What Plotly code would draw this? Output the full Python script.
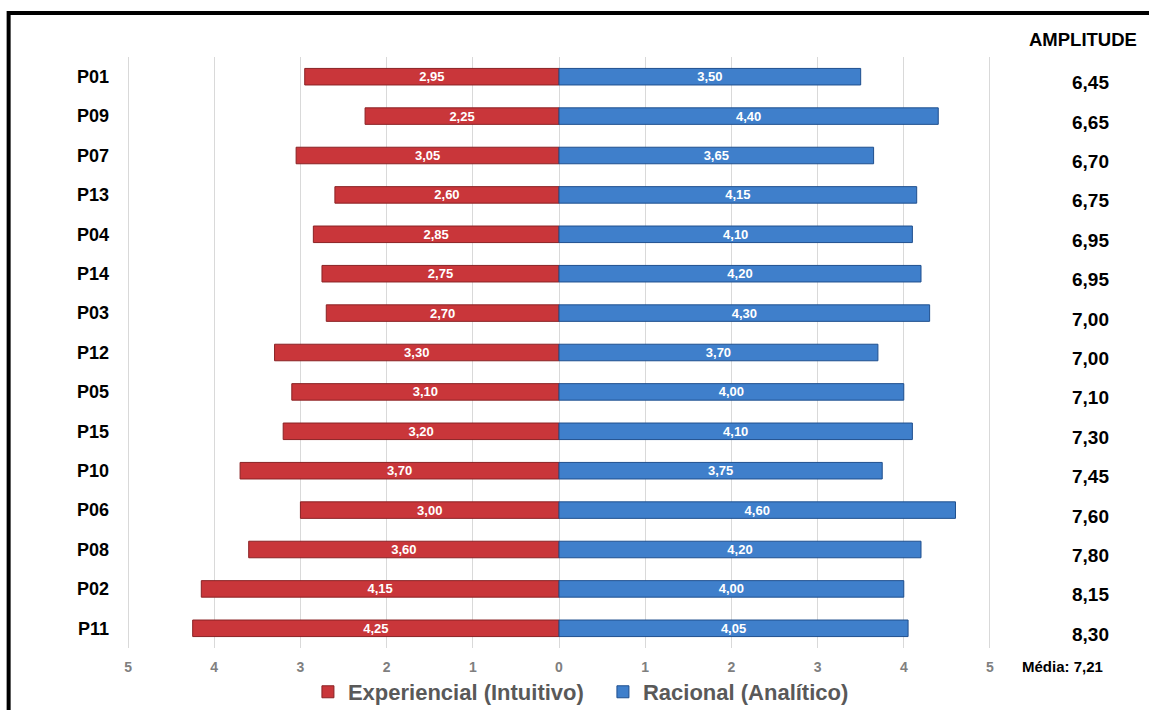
import plotly.graph_objects as go

participants = ["P01", "P09", "P07", "P13", "P04", "P14", "P03", "P12",
                "P05", "P15", "P10", "P06", "P08", "P02", "P11"]
experiencial = [2.95, 2.25, 3.05, 2.60, 2.85, 2.75, 2.70, 3.30,
                3.10, 3.20, 3.70, 3.00, 3.60, 4.15, 4.25]
racional = [3.50, 4.40, 3.65, 4.15, 4.10, 4.20, 4.30, 3.70,
            4.00, 4.10, 3.75, 4.60, 4.20, 4.00, 4.05]
amplitude = [6.45, 6.65, 6.70, 6.75, 6.95, 6.95, 7.00, 7.00,
             7.10, 7.30, 7.45, 7.60, 7.80, 8.15, 8.30]
media = 7.21
tick_vals = [-5, -4, -3, -2, -1, 0, 1, 2, 3, 4, 5]
tick_text = ["5", "4", "3", "2", "1", "0", "1", "2", "3", "4", "5"]

FONT = "Liberation Sans, Arial, sans-serif"

def br(v):
    return f"{v:.2f}".replace(".", ",")

fig = go.Figure()
fig.add_trace(go.Bar(
    y=participants, x=[-v for v in experiencial], orientation="h",
    name="Experiencial (Intuitivo)",
    marker=dict(color="#C9363A", line=dict(color="#8A2224", width=1)),
    text=[br(v) for v in experiencial], textposition="inside",
    insidetextanchor="middle", constraintext="none",
    textfont=dict(color="white", size=13, family=FONT, weight="bold"),
))
fig.add_trace(go.Bar(
    y=participants, x=racional, orientation="h",
    name="Racional (Analítico)",
    marker=dict(color="#3F7FCB", line=dict(color="#1F4F8E", width=1)),
    text=[br(v) for v in racional], textposition="inside",
    insidetextanchor="middle", constraintext="none",
    textfont=dict(color="white", size=13, family=FONT, weight="bold"),
))

annotations = []
for p, a in zip(participants, amplitude):
    annotations.append(dict(
        x=1.1157, xref="paper", xanchor="center", y=p, yref="y", yanchor="middle",
        yshift=-6, text=br(a), showarrow=False,
        font=dict(size=19, color="black", family=FONT, weight="bold"),
    ))
annotations.append(dict(
    x=1.1065, xref="paper", xanchor="center", y=1.029, yref="paper", yanchor="middle",
    text="AMPLITUDE", showarrow=False,
    font=dict(size=18.5, color="black", family=FONT, weight="bold"),
))
annotations.append(dict(
    x=1.0833, xref="paper", xanchor="center", y=-0.031, yref="paper", yanchor="middle",
    text="Média: " + br(media), showarrow=False,
    font=dict(size=15, color="black", family=FONT, weight="bold"),
))

fig.update_layout(
    width=1149, height=710,
    margin=dict(l=127, r=158, t=57, b=62),
    paper_bgcolor="white", plot_bgcolor="white",
    barmode="relative", bargap=0.58,
    font=dict(family=FONT),
    xaxis=dict(range=[-5.012, 5.012], tickvals=tick_vals, ticktext=tick_text,
               showgrid=True, gridcolor="#D9D9D9", gridwidth=1,
               zeroline=False, showline=False, ticks="", automargin=False,
               tickfont=dict(size=14, color="#7F7F7F", family=FONT, weight="bold"),
               ticklabelstandoff=9, fixedrange=True),
    yaxis=dict(categoryorder="array", categoryarray=participants,
               autorange="reversed", showgrid=False, zeroline=False,
               ticks="", ticklabelstandoff=17, automargin=False,
               tickfont=dict(size=18, color="black", family=FONT, weight="bold")),
    legend=dict(orientation="h", xref="container", yref="container",
                x=0.268, xanchor="left", y=0.0254, yanchor="middle",
                bgcolor="rgba(0,0,0,0)", entrywidth=250, entrywidthmode="pixels",
                font=dict(size=22, color="#595959", family=FONT, weight="bold"),
                itemwidth=30, traceorder="normal"),
    annotations=annotations,
    shapes=[dict(type="path", xref="paper", yref="paper",
                 path="M -0.137,-0.2 L -0.137,1.0745 L 1.3,1.0745",
                 line=dict(color="black", width=4))],
    showlegend=True,
)

fig.write_html("out.html")
